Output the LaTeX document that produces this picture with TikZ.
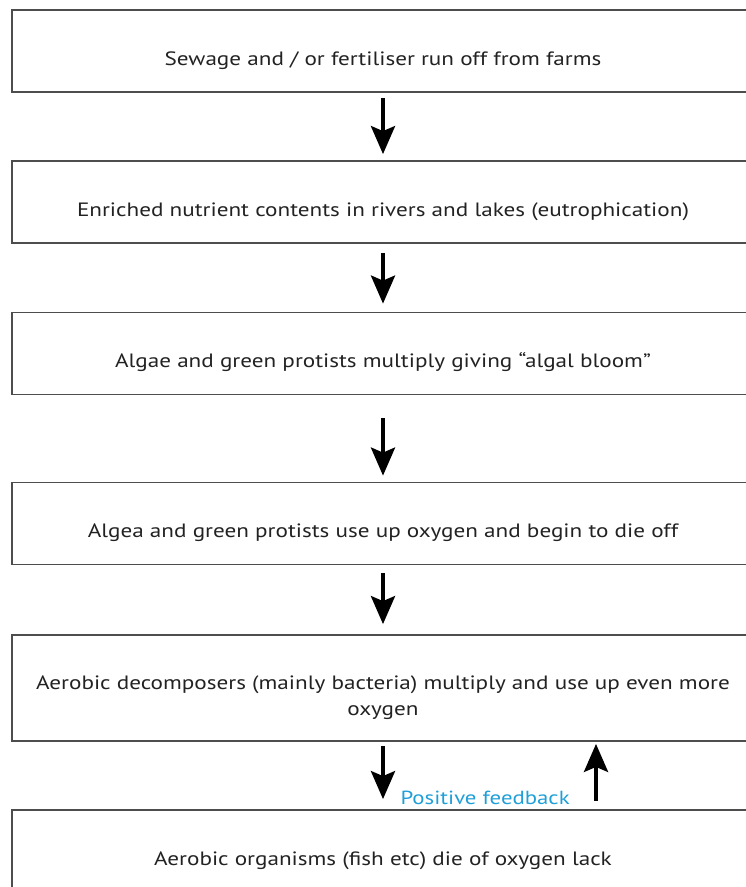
\documentclass[tikz,border=0pt]{standalone}
\usepackage{fontspec}
\setmainfont{PT Sans}[FakeStretch=1.2]
\usetikzlibrary{arrows.meta}
\definecolor{boxgray}{HTML}{4D4D4D}
\definecolor{textdark}{HTML}{222222}
\definecolor{feedblue}{HTML}{1F9FD8}

\begin{document}
\begin{tikzpicture}[x=1pt,y=-1pt,
  stage/.style={draw=boxgray, line width=1.8pt, minimum width=742pt, minimum height=82pt,
    inner sep=0pt, text=textdark, align=center, text height=33pt, text depth=5pt,
    font=\fontsize{19.3}{25.5}\selectfont},
  flow/.style={line width=4pt, -{Stealth[width=24pt,length=28pt,inset=5pt]}}]
\useasboundingbox (0,0) rectangle (745,887);

% Boxes of the chain, top to bottom
\node[stage] (runoff) at (383,51) {Sewage and / or fertiliser run off from farms};
\node[stage] (nutrient) at (383,202) {Enriched nutrient contents in rivers and lakes (eutrophication)};
\node[stage] (bloom) at (383,353.5) {Algae and green protists multiply giving ``algal bloom''};
\node[stage] (dieoff) at (383,523.5) {Algea and green protists use up oxygen and begin to die off};
\node[stage, minimum height=106pt, text height=59pt] (decomp) at (383,688) {Aerobic decomposers (mainly bacteria) multiply and use up even more\\oxygen};
\node[stage] (fish) at (383,851) {Aerobic organisms (fish etc) die of oxygen lack};

% Arrows between the boxes
\draw[flow, shorten <=5pt, shorten >=6pt] (runoff) -- (nutrient);
\draw[flow, shorten <=9pt, shorten >=8pt] (nutrient) -- (bloom);
\draw[flow, shorten <=23pt, shorten >=6pt] (bloom) -- (dieoff);
\draw[flow, shorten <=8pt, shorten >=10pt] (dieoff) -- (decomp);
\draw[flow, shorten <=4pt, shorten >=10pt] (decomp) -- (fish);

% Feedback loop back up
\coordinate (back) at (596,0);
\draw[flow, shorten <=8pt, shorten >=2pt] (fish.north -| back) -- (decomp.south -| back);
\node[anchor=base west, text=feedblue, font=\fontsize{19}{25}\selectfont] (feedback) at (397,804) {Positive feedback};
\end{tikzpicture}
\end{document}
